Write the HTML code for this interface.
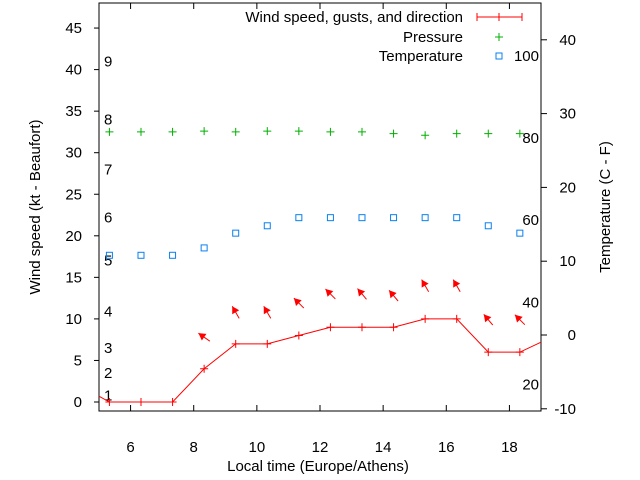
<!DOCTYPE html>
<html><head><meta charset="utf-8"><style>
body{margin:0;background:#fff}
svg{display:block;font-family:"Liberation Sans",sans-serif}
</style></head><body>
<svg id="chart" width="640" height="480" viewBox="0 0 640 480" xmlns="http://www.w3.org/2000/svg">
<g id="axes"></g><g id="series"></g><g id="legend"></g>
</svg>
<script>
const times = [5.33,6.33,7.33,8.33,9.33,10.33,11.33,12.33,13.33,14.33,15.33,16.33,17.33,18.33];
const windSpeed = [0,0,0,4,7,7,8,9,9,9,10,10,6,6];
const windEdgeStart = [5,0.7];
const windEdgeEnd = [19,7.2];
const gustTimes = [8.33,9.33,10.33,11.33,12.33,13.33,14.33,15.33,16.33,17.33,18.33];
const gustSpeed = [7.8,10.8,10.8,11.9,13,13,12.8,14,14,9.9,9.9];
const windDir = [305,330,330,315,315,320,320,330,330,320,315];
const pressure = [32.5,32.5,32.5,32.6,32.5,32.6,32.6,32.5,32.5,32.3,32.1,32.3,32.3,32.3];
const tempC = [10.8,10.8,10.8,11.8,13.8,14.8,15.9,15.9,15.9,15.9,15.9,15.9,14.8,13.8];
const xTicks = [6,8,10,12,14,16,18];
const yLeftTicks = [0,5,10,15,20,25,30,35,40,45];
const yRightTicks = [-10,0,10,20,30,40];
const beaufortLabels = ["1","2","3","4","5","6","7","8","9"];
const beaufortKt = [0.8,3.5,6.5,10.9,17,22.2,28,34,41];
const fahrLabels = ["20","40","60","80","100"];
const fahrC = [-6.7,4.4,15.6,26.7,37.8];

const L=99,R=541,T=3,B=411,FS=15;
const xS=v=>L+(v-5)/(19-5)*(R-L);
const yL=v=>402-v*8.31;
const yR=v=>335-v*7.38;
const NS="http://www.w3.org/2000/svg";
function mk(parent,tag,attrs,text){const e=document.createElementNS(NS,tag);for(const k in attrs)e.setAttribute(k,attrs[k]);if(text!==undefined)e.textContent=text;parent.appendChild(e);return e;}
const ax=document.getElementById('axes'),se=document.getElementById('series'),lg=document.getElementById('legend');

let e=mk(ax,'rect',{x:L,y:T,width:R-L,height:B-T,fill:'none',stroke:'#000','stroke-width':1});

xTicks.forEach(t=>{const x=xS(t);
 mk(ax,'line',{x1:x,y1:B,x2:x,y2:B-6,stroke:'#000'});
 mk(ax,'line',{x1:x,y1:T,x2:x,y2:T+6,stroke:'#000'});
 const l=mk(ax,'text',{x:x,y:452,'text-anchor':'middle','font-size':FS},String(t));
 });
yLeftTicks.forEach(t=>{const y=yL(t);
 mk(ax,'line',{x1:L-5,y1:y,x2:L,y2:y,stroke:'#000'});
 const l=mk(ax,'text',{x:82,y:y+5,'text-anchor':'end','font-size':FS},String(t));
 });
yRightTicks.forEach(t=>{const y=yR(t);
 mk(ax,'line',{x1:R,y1:y,x2:R+6,y2:y,stroke:'#000'});
 const l=mk(ax,'text',{x:576,y:y+5,'text-anchor':'end','font-size':FS},String(t));
 });
beaufortLabels.forEach((b,i)=>{const l=mk(ax,'text',{x:104,y:yL(beaufortKt[i])+5,'font-size':FS},b);
 });
fahrLabels.forEach((f,i)=>{const l=mk(ax,'text',{x:539,y:yR(fahrC[i])+5,'text-anchor':'end','font-size':FS},f);
 });
e=mk(ax,'text',{x:318,y:471,'text-anchor':'middle','font-size':FS},'Local time (Europe/Athens)');

e=mk(ax,'text',{x:40,y:207,'text-anchor':'middle','font-size':FS,transform:'rotate(-90 40 207)'},'Wind speed (kt - Beaufort)');

e=mk(ax,'text',{x:610,y:207,'text-anchor':'middle','font-size':FS,transform:'rotate(-90 610 207)'},'Temperature (C - F)');


let pts=[[xS(windEdgeStart[0]),yL(windEdgeStart[1])]];
times.forEach((t,i)=>pts.push([xS(t),yL(windSpeed[i])]));
pts.push([xS(windEdgeEnd[0]),yL(windEdgeEnd[1])]);
e=mk(se,'polyline',{points:pts.map(p=>p.join(',')).join(' '),fill:'none',stroke:'#f00','stroke-width':1});

times.forEach((t,i)=>{const x=xS(t),y=yL(windSpeed[i]);
 e=mk(se,'path',{d:`M${x-4},${y}H${x+4}M${x},${y-4}V${y+4}`,stroke:'#f00','stroke-width':1});
 });
gustTimes.forEach((t,i)=>{const cx=xS(t),cy=yL(gustSpeed[i]);const a=windDir[i]*Math.PI/180;
 const dx=Math.sin(a)*7,dy=-Math.cos(a)*7;const hx=cx+dx,hy=cy+dy;
 const ux=dx/7,uy=dy/7,px=-uy,py=ux;
 const g=mk(se,'g',{});
 
 mk(g,'line',{x1:cx-dx,y1:cy-dy,x2:hx,y2:hy,stroke:'#f00','stroke-width':1});
 mk(g,'polygon',{points:`${hx},${hy} ${hx-ux*7+px*4},${hy-uy*7+py*4} ${hx-ux*7-px*4},${hy-uy*7-py*4}`,fill:'#f00'});});
times.forEach((t,i)=>{const x=xS(t),y=yL(pressure[i]);
 e=mk(se,'path',{d:`M${x-4},${y}H${x+4}M${x},${y-4}V${y+4}`,stroke:'#00b000','stroke-width':1});
 });
times.forEach((t,i)=>{const x=xS(t),y=yR(tempC[i]);
 e=mk(se,'rect',{x:x-3,y:y-3,width:6,height:6,fill:'none',stroke:'#0a80f0','stroke-width':1});
 });

[['Wind speed, gusts, and direction',17],['Pressure',37],['Temperature',56]].forEach(([s,y])=>{
 e=mk(lg,'text',{x:463,y:y+5,'text-anchor':'end','font-size':FS},s);
 });
e=mk(lg,'path',{d:'M477,17H522M477,13V21M522,13V21M499,13V21',stroke:'#f00','stroke-width':1,fill:'none'});

e=mk(lg,'path',{d:'M495,37H503M499,33V41',stroke:'#00b000','stroke-width':1});

e=mk(lg,'rect',{x:496,y:53,width:6,height:6,fill:'none',stroke:'#0a80f0'});

</script>
</body></html>
